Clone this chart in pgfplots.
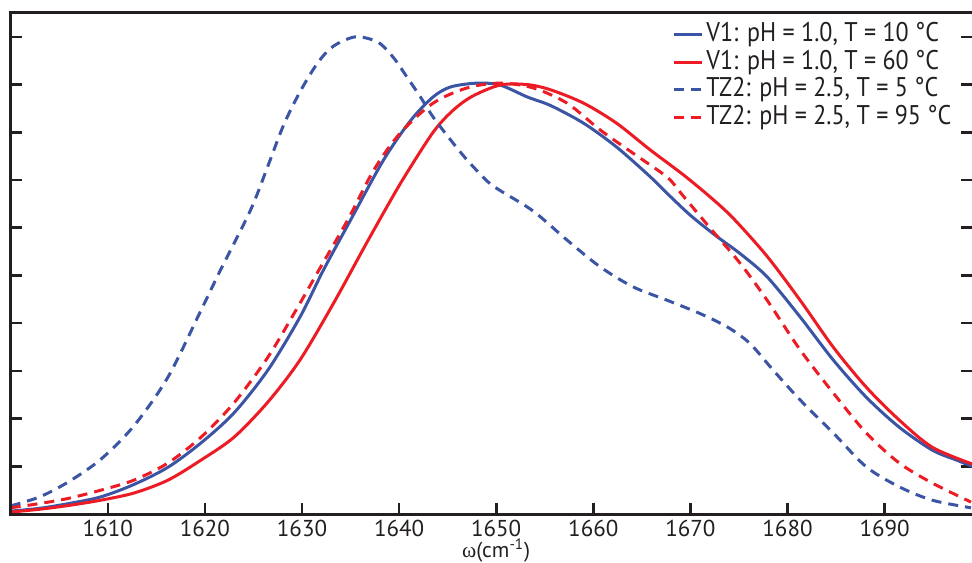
\documentclass[border=0pt]{standalone}
\usepackage{fontspec}
\setmainfont{PT Sans}
\newfontfamily\legfont[FakeStretch=0.89]{PT Sans}
\newfontfamily\greekfont{Liberation Serif}
\usepackage{pgfplots}
\pgfplotsset{compat=1.18}
\definecolor{myblue}{HTML}{3B55A4}
\definecolor{myred}{HTML}{ED1C24}
\definecolor{axgray}{HTML}{231F20}
\begin{document}
\begin{tikzpicture}
\begin{axis}[
  name=ax,
  scale only axis, width=480.65pt, height=250.5pt,
  xmin=1600, xmax=1699, ymin=0, ymax=1.05,
  axis line style={draw=none},
  xtick={1610,1620,1630,1640,1650,1660,1670,1680,1690},
  ytick={0.1,0.2,0.3,0.4,0.5,0.6,0.7,0.8,0.9,1.0},
  yticklabels={},
  xtick pos=left, ytick pos=both,
  tick align=inside,
  major tick length=5.5pt,
  every tick/.style={axgray, line width=1.3pt},
  xticklabel style={font=\fontsize{11.5}{13}\selectfont, text=axgray, anchor=base, yshift=-11.2pt, inner sep=0pt, text depth=0pt},
  /pgf/number format/assume math mode=true,
  /pgf/number format/set thousands separator={},
  xlabel={{\greekfont ω}(cm\textsuperscript{-1})},
  xlabel style={at={(axis description cs:0.505,0)}, anchor=base, yshift=-21.8pt, font=\fontsize{10.8}{12}\selectfont, text=axgray, inner sep=0pt, text height=7.5pt, text depth=1.2pt},
  legend style={at={(axis description cs:0.688,0.985)}, anchor=north west, draw=none, fill=none,
    font=\legfont\fontsize{13.5}{14}\selectfont, row sep=0pt, inner sep=0pt,
    nodes={inner xsep=1.5pt, inner ysep=0pt, text height=10.3pt, text depth=3.5pt, text=axgray}},
  legend cell align=left,
  legend image code/.code={\draw[#1] (0pt,0pt) -- (14pt,0pt);},
  every axis plot/.append style={line width=1.5pt},
]
\addplot[myblue, smooth] coordinates {
(1600,0.006) (1603,0.012) (1606,0.022) (1609.3,0.036) (1612.7,0.062) (1616.2,0.098)
(1619.6,0.149) (1623.0,0.212) (1626.5,0.302) (1629.8,0.413) (1632.2,0.511) (1635.0,0.616)
(1638.4,0.742) (1641.2,0.825) (1643.5,0.874) (1645.3,0.895) (1648.0,0.903) (1650.4,0.899)
(1653.2,0.874) (1655.6,0.856) (1659.0,0.819) (1662.4,0.769) (1665.8,0.708) (1667.6,0.672)
(1670.0,0.626) (1672.7,0.582) (1675.1,0.546) (1677.9,0.497) (1681.3,0.413) (1684.7,0.323)
(1688.1,0.245) (1691.5,0.182) (1694.9,0.134) (1697.4,0.113) (1699,0.100)
};
\addlegendentry{V1: pH = 1.0, T = 10 °C}
\addplot[myred, smooth] coordinates {
(1600,0.004) (1603,0.010) (1606,0.018) (1609.3,0.029) (1612.7,0.044) (1616.2,0.071)
(1619.6,0.113) (1623.0,0.161) (1626.5,0.235) (1629.8,0.323) (1633.2,0.440) (1636.3,0.555)
(1638.5,0.635) (1640.5,0.705) (1643.5,0.800) (1645.5,0.845) (1647.5,0.875) (1650.4,0.899)
(1653.2,0.900) (1655.6,0.889) (1659.0,0.861) (1662.4,0.819) (1665.8,0.764) (1669.2,0.712)
(1672.0,0.665) (1674.4,0.620) (1677.9,0.540) (1681.3,0.448) (1684.7,0.350) (1688.1,0.266)
(1691.5,0.197) (1694.9,0.140) (1699,0.105)
};
\addlegendentry{V1: pH = 1.0, T = 60 °C}
\addplot[myblue, smooth, dash pattern=on 5pt off 3.5pt] coordinates {
(1600,0.017) (1603,0.036) (1606,0.068) (1609.3,0.115) (1612.7,0.185) (1616.2,0.287)
(1619.6,0.427) (1621.6,0.511) (1624.7,0.637) (1626.5,0.730) (1628.1,0.815) (1629.8,0.885)
(1631.6,0.945) (1633.2,0.980) (1635.5,1.000) (1637.8,0.989) (1639.4,0.957) (1640.8,0.916)
(1642.2,0.874) (1643.5,0.832) (1645.3,0.784) (1647.0,0.742) (1649.1,0.697) (1650.4,0.678)
(1653.8,0.635) (1657.3,0.574) (1660.7,0.518) (1664.1,0.476) (1667.6,0.448) (1671.0,0.420)
(1673.8,0.392) (1676.1,0.358) (1678.5,0.302) (1681.3,0.239) (1684.7,0.170) (1688.1,0.099)
(1691.5,0.057) (1694.9,0.029) (1698.9,0.013)
};
\addlegendentry{TZ2: pH = 2.5, T = 5 °C}
\addplot[myred, smooth, dash pattern=on 5pt off 3.5pt] coordinates {
(1600,0.013) (1603,0.022) (1606,0.033) (1609.3,0.050) (1612.7,0.071) (1616.2,0.107)
(1619.6,0.161) (1623.0,0.233) (1626.5,0.329) (1629.8,0.442) (1631.9,0.517) (1634.7,0.616)
(1637.4,0.721) (1640.1,0.798) (1643.5,0.861) (1647.0,0.893) (1650.4,0.903) (1653.8,0.893)
(1657.3,0.861) (1660.7,0.805) (1664.1,0.756) (1667.6,0.706) (1669.2,0.668) (1672.0,0.600)
(1675.1,0.526) (1677.9,0.448) (1681.3,0.344) (1684.7,0.254) (1688.1,0.170) (1691.5,0.107)
(1694.9,0.065) (1698.9,0.025)
};
\addlegendentry{TZ2: pH = 2.5, T = 95 °C}
\end{axis}
\draw[axgray, line width=1.5pt, line join=miter] (ax.north east) -- (ax.north west) -- (ax.south west) -- (ax.south east);
\pgfresetboundingbox
\path (-5.35pt,-24pt) rectangle (480.65pt,257pt);
\end{tikzpicture}
\end{document}
